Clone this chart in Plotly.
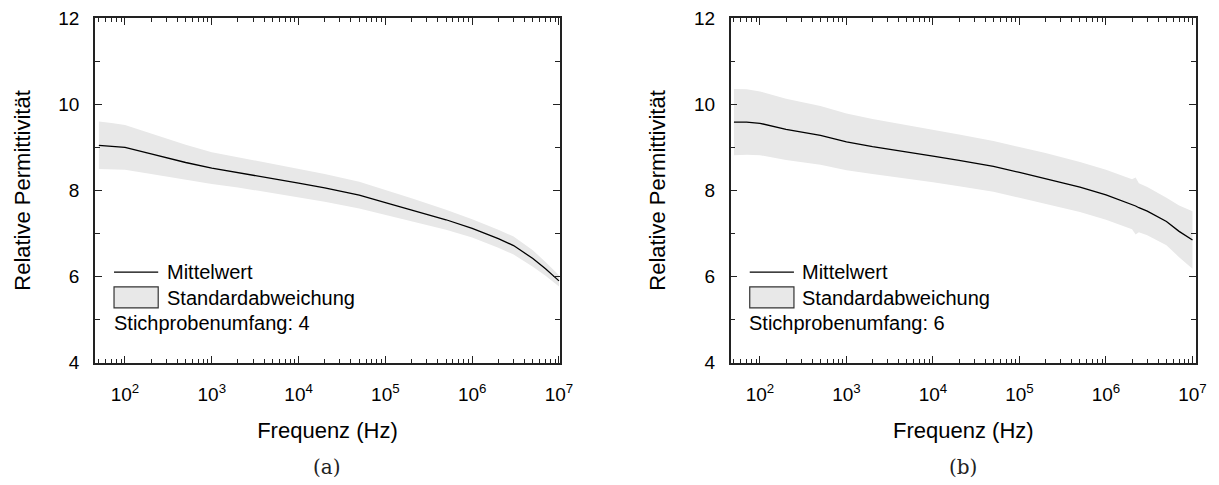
import plotly.graph_objects as go

# ---------------- data ----------------
freq_a = [50, 70, 100, 200, 500, 1e3, 2e3, 5e3, 1e4, 2e4, 5e4, 1e5, 2e5, 5e5,
          1e6, 2e6, 3e6, 5e6, 7e6, 1e7]
mean_a = [9.05, 9.03, 9.00, 8.85, 8.65, 8.52, 8.42, 8.28, 8.17, 8.06, 7.89, 7.72,
          7.55, 7.32, 7.12, 6.88, 6.72, 6.42, 6.18, 5.90]
std_a = [0.55, 0.54, 0.52, 0.47, 0.41, 0.37, 0.35, 0.34, 0.33, 0.32, 0.31, 0.29,
         0.27, 0.23, 0.21, 0.21, 0.21, 0.19, 0.16, 0.13]

freq_b = [50, 70, 100, 200, 500, 1e3, 2e3, 5e3, 1e4, 2e4, 5e4, 1e5, 2e5, 5e5,
          1e6, 2e6, 2.2e6, 2.4e6, 3e6, 5e6, 7e6, 1e7]
mean_b = [9.59, 9.59, 9.56, 9.42, 9.28, 9.13, 9.02, 8.90, 8.80, 8.70, 8.56, 8.42,
          8.28, 8.08, 7.90, 7.68, 7.64, 7.60, 7.52, 7.28, 7.05, 6.85]
std_b = [0.77, 0.76, 0.74, 0.71, 0.68, 0.66, 0.64, 0.62, 0.61, 0.60, 0.59, 0.59,
         0.59, 0.58, 0.58, 0.58, 0.66, 0.57, 0.56, 0.55, 0.60, 0.67]

sample_sizes = [4, 6]
panel_labels = ["(a)", "(b)"]
x_tick_vals = [1e2, 1e3, 1e4, 1e5, 1e6, 1e7]
x_tick_text = ["10<sup>2</sup>", "10<sup>3</sup>", "10<sup>4</sup>",
               "10<sup>5</sup>", "10<sup>6</sup>", "10<sup>7</sup>"]
y_tick_vals = [4, 6, 8, 10, 12]
y_minor_vals = [5, 7, 9, 11]
x_minor_vals = [m * 10 ** e for e in range(1, 7) for m in range(2, 10)]

# ---------------- style ----------------
FONT = "Liberation Sans, Arial, sans-serif"
BAND = "#e8e8e8"
domains_x = [[0.0779, 0.4594], [0.5994, 0.9811]]
domain_y = [0.2522, 0.9623]

fig = go.Figure()

panels = [(freq_a, mean_a, std_a), (freq_b, mean_b, std_b)]
for i, (f, m, s) in enumerate(panels):
    xa = "x" if i == 0 else "x2"
    ya = "y" if i == 0 else "y2"
    lower = [mv - sv for mv, sv in zip(m, s)]
    upper = [mv + sv for mv, sv in zip(m, s)]
    fig.add_trace(go.Scatter(x=f, y=lower, mode="lines", line=dict(width=0, color=BAND),
                             showlegend=False, xaxis=xa, yaxis=ya, hoverinfo="skip"))
    fig.add_trace(go.Scatter(x=f, y=upper, mode="lines", line=dict(width=0, color=BAND),
                             fill="tonexty", fillcolor=BAND, showlegend=False,
                             xaxis=xa, yaxis=ya, hoverinfo="skip"))
    fig.add_trace(go.Scatter(x=f, y=m, mode="lines", line=dict(width=1.3, color="black"),
                             showlegend=False, xaxis=xa, yaxis=ya))

axis_common = dict(showline=True, linecolor="#222", linewidth=1.6, mirror="ticks",
                   ticks="inside", tickcolor="#222", tickwidth=1.3, showgrid=False,
                   zeroline=False, automargin=False,
                   tickfont=dict(family=FONT, size=19, color="black"))

for i in range(2):
    xkey = "xaxis" if i == 0 else "xaxis2"
    ykey = "yaxis" if i == 0 else "yaxis2"
    fig.update_layout({
        xkey: dict(axis_common, type="log", domain=domains_x[i],
                   range=[1.654, 7.012] if i == 0 else [1.661, 7.04],
                   tickmode="array", tickvals=x_tick_vals, ticktext=x_tick_text,
                   ticklen=7, ticklabelstandoff=14,
                   minor=dict(tickmode="array", tickvals=x_minor_vals, ticks="inside",
                              ticklen=4, tickcolor="#222", tickwidth=1.2),
                   anchor="y" if i == 0 else "y2",
                   title=dict(text="Frequenz (Hz)", font=dict(family=FONT, size=22, color="black"),
                              standoff=18)),
        ykey: dict(axis_common, domain=domain_y, range=[4, 12],
                   tickmode="array", tickvals=y_tick_vals, ticklen=7, ticklabelstandoff=10,
                   minor=dict(tickmode="array", tickvals=y_minor_vals, ticks="inside",
                              ticklen=5, tickcolor="#222", tickwidth=1.2),
                   anchor="x" if i == 0 else "x2",
                   title=dict(text="Relative Permittivität",
                              font=dict(family=FONT, size=22, color="black"), standoff=22)),
    })

# ---------------- legends (inside each panel) ----------------
shapes = []
annotations = []
for i in range(2):
    xr = ("x" if i == 0 else "x2") + " domain"
    yr = ("y" if i == 0 else "y2") + " domain"
    shapes.append(dict(type="line", xref=xr, yref=yr, x0=0.041, x1=0.136, y0=0.263, y1=0.263,
                       line=dict(color="black", width=1.2)))
    shapes.append(dict(type="rect", xref=xr, yref=yr, x0=0.041, x1=0.136, y0=0.159, y1=0.220,
                       fillcolor=BAND, line=dict(color="#333", width=1.2)))
    annotations.append(dict(xref=xr, yref=yr, x=0.150, y=0.263, text="Mittelwert",
                            showarrow=False, xanchor="left", yanchor="middle",
                            font=dict(family=FONT, size=20, color="black")))
    annotations.append(dict(xref=xr, yref=yr, x=0.150, y=0.189, text="Standardabweichung",
                            showarrow=False, xanchor="left", yanchor="middle",
                            font=dict(family=FONT, size=20, color="black")))
    annotations.append(dict(xref=xr, yref=yr, x=0.036, y=0.115,
                            text=f"Stichprobenumfang: {sample_sizes[i]}",
                            showarrow=False, xanchor="left", yanchor="middle",
                            font=dict(family=FONT, size=20, color="black")))
    annotations.append(dict(xref="paper", yref="paper",
                            x=(domains_x[i][0] + domains_x[i][1]) / 2, y=0.037,
                            text=panel_labels[i], showarrow=False,
                            xanchor="center", yanchor="middle",
                            font=dict(family="DejaVu Serif, Liberation Serif, serif", size=20,
                                      color="#222")))

fig.update_layout(width=1219, height=485, margin=dict(l=0, r=0, t=0, b=0, autoexpand=False),
                  paper_bgcolor="white", plot_bgcolor="white",
                  shapes=shapes, annotations=annotations, showlegend=False)

fig.write_html("out.html")
